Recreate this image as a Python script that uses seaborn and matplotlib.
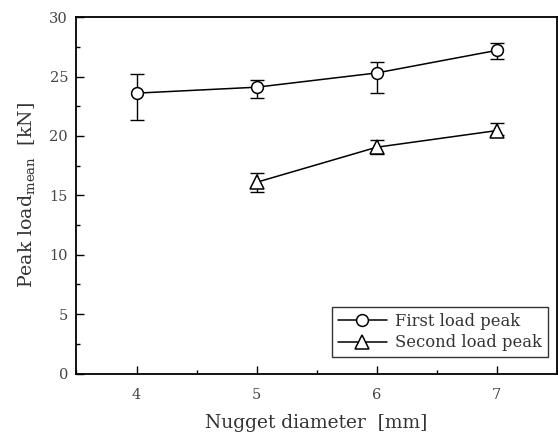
import matplotlib
matplotlib.use("Agg")
import matplotlib.pyplot as plt
import seaborn as sns
import pandas as pd
from matplotlib.ticker import MultipleLocator

# nugget diameter [mm]
first_x = [4, 5, 6, 7]
first_mean = [23.6, 24.1, 25.3, 27.2]
first_err_lo = [2.3, 0.9, 1.65, 0.75]
first_err_hi = [1.6, 0.6, 0.9, 0.65]

second_x = [5, 6, 7]
second_mean = [16.1, 19.05, 20.45]
second_err_lo = [0.85, 0.6, 0.4]
second_err_hi = [0.8, 0.6, 0.6]

sns.set_theme(style="white")
plt.rcParams["font.family"] = ["DejaVu Serif"]
plt.rcParams["mathtext.fontset"] = "dejavuserif"

df_first = pd.DataFrame({"x": first_x, "y": first_mean})
df_second = pd.DataFrame({"x": second_x, "y": second_mean})

fig, ax = plt.subplots(figsize=(5.58, 4.38), dpi=100)
fig.subplots_adjust(left=0.137, right=0.998, top=0.961, bottom=0.147)

# error bars first (behind markers)
ax.errorbar(first_x, first_mean, yerr=[first_err_lo, first_err_hi], fmt="none",
            ecolor="black", elinewidth=1, capsize=5, capthick=1, zorder=1)
ax.errorbar(second_x, second_mean, yerr=[second_err_lo, second_err_hi], fmt="none",
            ecolor="black", elinewidth=1, capsize=5, capthick=1, zorder=1)

sns.lineplot(data=df_first, x="x", y="y", ax=ax, color="black", lw=1.1,
             marker="o", markersize=8.5, markerfacecolor="white",
             markeredgecolor="black", markeredgewidth=1.1,
             label="First load peak", zorder=3)
sns.lineplot(data=df_second, x="x", y="y", ax=ax, color="black", lw=1.1,
             marker="^", markersize=9.5, markerfacecolor="white",
             markeredgecolor="black", markeredgewidth=1.1,
             label="Second load peak", zorder=3)

ax.set_xlim(3.5, 7.5)
ax.set_ylim(0, 30)
ax.xaxis.set_major_locator(MultipleLocator(1))
ax.xaxis.set_minor_locator(MultipleLocator(0.5))
ax.yaxis.set_major_locator(MultipleLocator(5))
ax.yaxis.set_minor_locator(MultipleLocator(2.5))
ax.tick_params(which="major", direction="in", length=6, width=1, colors="black",
               labelsize=10.5, labelcolor="#444444", bottom=True, left=True, pad=10)
ax.tick_params(which="minor", direction="in", length=3, width=1, colors="black",
               bottom=True, left=True)
ax.tick_params(axis="y", which="major", pad=6)

for side in ["left", "bottom", "top", "right"]:
    ax.spines[side].set_color("black")
    ax.spines[side].set_linewidth(1.3)

ax.set_xlabel("Nugget diameter  [mm]", fontsize=13.4, color="#333333", labelpad=9)
ax.set_ylabel(r"Peak load$_{\mathregular{mean}}$  [kN]", fontsize=13.6,
              color="#333333", labelpad=9)

leg = ax.legend(loc="lower right", bbox_to_anchor=(0.981, 0.046), borderaxespad=0,
                frameon=True, fancybox=False, edgecolor="black", fontsize=11.8,
                handlelength=3.0, handletextpad=0.5, borderpad=0.35,
                labelspacing=0.3)
leg.get_frame().set_linewidth(1)
for t in leg.get_texts():
    t.set_color("#333333")

fig.savefig("out.png", dpi=100)
